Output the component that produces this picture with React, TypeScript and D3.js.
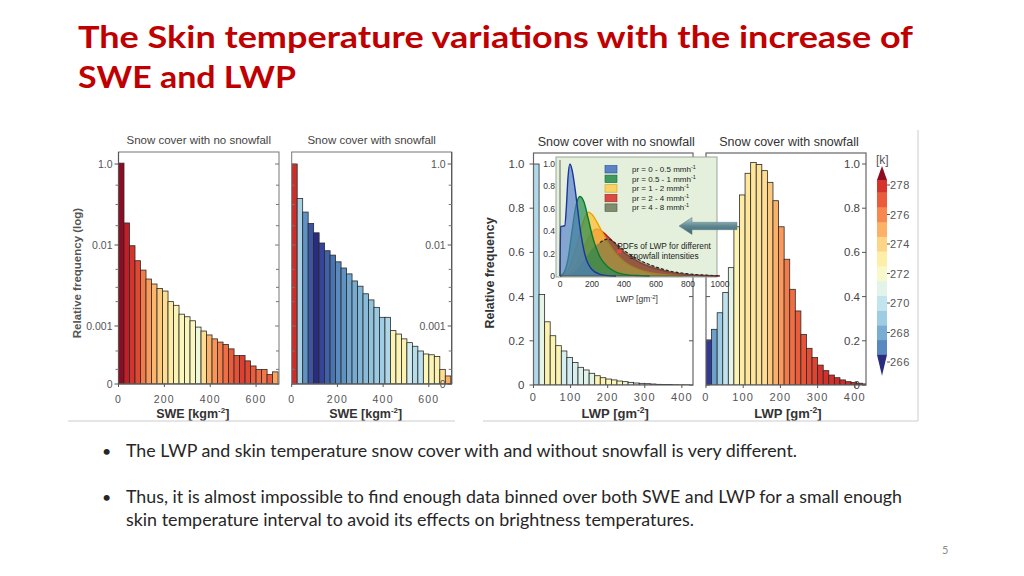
import React from "react";
import * as d3 from "d3";

// ---------- text ----------
const titleLine1 = "The Skin temperature variations with the increase of";
const titleLine2 = "SWE and LWP";
const bullet1 = "The LWP and skin temperature snow cover with and without snowfall is very different.";
const bullet2a = "Thus, it is almost impossible to find enough data binned over both SWE and LWP for a small enough";
const bullet2b = "skin temperature interval to avoid its effects on brightness temperatures.";
const pageNumber = "5";

const panelTitles = ["Snow cover with no snowfall", "Snow cover with snowfall", "Snow cover with no snowfall", "Snow cover with snowfall"];

// ---------- SWE histograms (log frequency) ----------
const sweBinWidth = 24;
const sweNoSnowfall = [1.05, 0.035, 0.0098, 0.0064, 0.0049, 0.0038, 0.0033, 0.0029, 0.0027, 0.002, 0.0018, 0.0014, 0.0013, 0.00116, 0.00097, 0.00087, 0.00078, 0.0007, 0.00064, 0.0006, 0.00053, 0.00044, 0.00044, 0.00038, 0.00033, 0.0003, 0.0003, 0.00026, 0.00028];
const sweNoSnowfallTemp = [280, 278.6, 278.0, 277.5, 276.3, 275.6, 274.9, 274.3, 273.7, 273.1, 272.7, 272.4, 272.4, 272.3, 271.5, 273.7, 275.0, 275.7, 276.2, 276.6, 277.0, 277.3, 277.7, 277.5, 277.0, 276.7, 276.4, 277.1, 275.3];
const sweSnowfall = [1.0, 0.14, 0.065, 0.034, 0.02, 0.0112, 0.0085, 0.0075, 0.0062, 0.0052, 0.0044, 0.0036, 0.0031, 0.0025, 0.0021, 0.0017, 0.00128, 0.00128, 0.00088, 0.0008, 0.0007, 0.00063, 0.00057, 0.0005, 0.00046, 0.00045, 0.00043, 0.0003, 0.00025];
const sweSnowfallTemp = [278.2, 269.2, 267.2, 265.7, 264.5, 265.3, 266.0, 266.45, 267.0, 267.2, 267.75, 267.9, 268.2, 268.4, 268.6, 268.9, 269.0, 269.4, 272.7, 272.6, 272.8, 270.5, 269.6, 269.8, 272.5, 272.6, 272.8, 273.7, 275.1];
const sweTicks = [0, 200, 400, 600];
const logTickValues = [0.0002, 0.001, 0.01, 1.0];
const logTickLabels = ["0", "0.001", "0.01", "1.0"];
const logMinorTicks = [0.3, 0.1, 0.03, 0.005, 0.003, 0.002, 0.0005, 0.0003];

// ---------- LWP histograms (linear frequency) ----------
const lwpBinWidth = 15;
const lwpNoSnowfall = [1.0, 0.41, 0.286, 0.223, 0.178, 0.154, 0.125, 0.102, 0.08, 0.068, 0.053, 0.042, 0.033, 0.027, 0.023, 0.018, 0.015, 0.012, 0.009, 0.0075, 0.006, 0.0045, 0.003, 0.0025, 0.002, 0.0015, 0.001, 0.001];
const lwpNoSnowfallTemp = [269.5, 271.1, 272.8, 272.7, 272.6, 270.6, 270.5, 270.7, 270.8, 270.9, 271.0, 272.6, 272.7, 272.5, 272.4, 272.3, 271.6, 271.0, 271.0, 271.0, 271.0, 271.0, 271.0, 271.0, 271.0, 271.0, 271.0, 271.0];
const lwpSnowfall = [0.204, 0.252, 0.327, 0.419, 0.531, 0.716, 0.86, 0.958, 1.007, 0.998, 0.97, 0.917, 0.834, 0.716, 0.569, 0.433, 0.335, 0.229, 0.166, 0.124, 0.09, 0.065, 0.045, 0.033, 0.023, 0.015, 0.011, 0.008, 0.005];
const lwpSnowfallTemp = [265.05, 267.6, 269.0, 269.9, 271.1, 272.7, 273.1, 273.3, 273.4, 273.5, 273.7, 274.3, 275.0, 275.6, 276.3, 276.6, 277.0, 277.2, 277.4, 277.6, 278.0, 278.1, 278.1, 278.2, 278.2, 278.2, 278.3, 278.3, 278.3];
const lwpTicks = [0, 100, 200, 300, 400];
const linTicks = [0, 0.2, 0.4, 0.6, 0.8, 1.0];
const linTickLabels = ["0", "0.2", "0.4", "0.6", "0.8", "1.0"];

// ---------- colorbar ----------
const colorbarTicks = [266, 268, 270, 272, 274, 276, 278];
const colorbarBandStarts = [266.5, 267.5, 268.5, 269.5, 270.5, 271.5, 272.5, 273.5, 274.5, 275.5, 276.5, 277.5];
const colorbarUnit = "[k]";

// ---------- inset PDFs ----------
const insetLabels = ["pr = 0 - 0.5 mmh", "pr = 0.5 - 1 mmh", "pr = 1 - 2  mmh", "pr = 2 - 4 mmh", "pr = 4 - 8 mmh"];
const pdfLow: [number, number][] = [[0, 0], [4, 0.44], [30, 0.45], [40, 0.62], [50, 0.88], [62, 1.0], [75, 0.95], [94, 0.78], [110, 0.6], [125, 0.43], [156, 0.19], [198, 0.06], [250, 0.015], [300, 0.003], [350, 0]];
const pdfMid: [number, number][] = [[0, 0], [25, 0.03], [50, 0.15], [75, 0.4], [100, 0.63], [125, 0.71], [150, 0.66], [175, 0.52], [200, 0.37], [250, 0.17], [300, 0.08], [350, 0.035], [400, 0.015], [500, 0.003], [560, 0]];
const pdfModerate: [number, number][] = [[0, 0], [50, 0.05], [100, 0.25], [150, 0.5], [175, 0.57], [200, 0.55], [250, 0.43], [300, 0.3], [350, 0.2], [400, 0.13], [500, 0.055], [600, 0.02], [700, 0.006], [760, 0]];
const pdfHeavy: [number, number][] = [[0, 0], [50, 0.02], [100, 0.1], [150, 0.26], [200, 0.39], [225, 0.42], [250, 0.41], [300, 0.35], [350, 0.28], [400, 0.21], [500, 0.12], [600, 0.065], [700, 0.03], [800, 0.012], [900, 0.004], [1000, 0]];
const pdfExtreme: [number, number][] = [[0, 0], [50, 0.01], [100, 0.05], [150, 0.14], [200, 0.24], [250, 0.3], [300, 0.33], [350, 0.29], [400, 0.23], [500, 0.14], [600, 0.08], [700, 0.04], [800, 0.02], [900, 0.008], [1000, 0.003]];
const insetXTicks = [0, 200, 400, 600, 800, 1000];
const insetYTicks = [0, 0.2, 0.4, 0.6, 0.8, 1.0];
const insetYLabels = ["0", "0.2", "0.4", "0.6", "0.8", "1.0"];

const FONT = "'Liberation Sans', Arial, sans-serif";
const SLIDE_FONT = "Lato, 'Open Sans', sans-serif";

const tempColor = (T: number) =>
  T >= 279.5 ? "#8e0c22" : T <= 265 ? "#2a2c80" : d3.interpolateRdYlBu(1 - (T - 265) / 14.5);

type Geo = { left: number; right: number; top: number; bottom: number };

function LogPanel({ g, data, temps, title, labelSide, id }: { g: Geo; data: number[]; temps: number[]; title: string; labelSide: "left" | "right"; id: string }) {
  const x = d3.scaleLinear().domain([0, 700]).range([g.left, g.right]);
  const y = d3.scaleLog().domain(logTickValues).range([384, 326, 245, 164]);
  const axisMajorX = labelSide === "left" ? g.left : g.right;
  const axisMinorX = labelSide === "left" ? g.right : g.left;
  const minorDir = labelSide === "left" ? -1 : 1;
  return (
    <g>
      <clipPath id={id}><rect x={g.left} y={g.top} width={g.right - g.left} height={g.bottom - g.top} /></clipPath>
      <g clipPath={`url(#${id})`}>
        {data.map((v, i) => (
          <rect key={i} x={x(i * sweBinWidth)} width={x((i + 1) * sweBinWidth) - x(i * sweBinWidth)} y={y(v)} height={g.bottom - y(v)} fill={tempColor(temps[i])} stroke="#2a2a2a" strokeWidth={0.8} />
        ))}
      </g>
      <rect x={g.left} y={g.top} width={g.right - g.left} height={g.bottom - g.top} fill="none" stroke="#777" strokeWidth={1} />
      <line x1={g.left} x2={g.right} y1={g.bottom} y2={g.bottom} stroke="#555" strokeWidth={1.2} />
      <line x1={axisMajorX} x2={axisMajorX} y1={g.top} y2={g.bottom} stroke="#555" strokeWidth={1.2} />
      {logTickValues.map((v, i) => (
        <g key={i}>
          <line x1={axisMajorX} x2={axisMajorX - 4} y1={y(v)} y2={y(v)} stroke="#555" />
          <line x1={axisMinorX} x2={axisMinorX + minorDir * 4} y1={y(v)} y2={y(v)} stroke="#777" />
          <text x={labelSide === "left" ? g.left - 6 : g.right - 6} y={y(v) + 4} textAnchor="end" fontSize={10.5} fill="#555" fontFamily={FONT}>{logTickLabels[i]}</text>
        </g>
      ))}
      {logMinorTicks.map((v, i) => (
        <g key={i}>
          <line x1={axisMinorX} x2={axisMinorX + minorDir * 3} y1={y(v)} y2={y(v)} stroke="#777" />
          <line x1={axisMajorX} x2={axisMajorX - 3} y1={y(v)} y2={y(v)} stroke="#777" />
        </g>
      ))}
      {sweTicks.map((t) => (
        <g key={t}>
          <line x1={x(t)} x2={x(t)} y1={g.bottom} y2={g.bottom + 3} stroke="#555" />
          <text x={x(t)} y={403} textAnchor="middle" fontSize={10.5} fill="#555" letterSpacing={1.2} fontFamily={FONT}>{t}</text>
        </g>
      ))}
      <text x={(g.left + g.right) / 2} y={143.5} textAnchor="middle" fontSize={11.5} fill="#444" fontFamily={FONT}>{title}</text>
      <text x={(g.left + g.right) / 2 - 6} y={418} textAnchor="middle" fontSize={12.5} fontWeight="bold" fill="#333" fontFamily={FONT}>
        SWE [kgm<tspan dy={-5} fontSize={8}>-2</tspan><tspan dy={5}>]</tspan>
      </text>
    </g>
  );
}

function LinPanel({ g, data, temps, title, labelSide, id }: { g: Geo; data: number[]; temps: number[]; title: string; labelSide: "left" | "right"; id: string }) {
  const x = d3.scaleLinear().domain([0, 430]).range([g.left, g.right]);
  const y = d3.scaleLinear().domain([0, 1]).range([g.bottom, 164]);
  return (
    <g>
      <clipPath id={id}><rect x={g.left} y={g.top} width={g.right - g.left} height={g.bottom - g.top} /></clipPath>
      <g clipPath={`url(#${id})`}>
        {data.map((v, i) => (
          <rect key={i} x={x(i * lwpBinWidth)} width={x((i + 1) * lwpBinWidth) - x(i * lwpBinWidth)} y={y(v)} height={g.bottom - y(v)} fill={tempColor(temps[i])} stroke="#2a2a2a" strokeWidth={0.8} />
        ))}
      </g>
      <rect x={g.left} y={g.top} width={g.right - g.left} height={g.bottom - g.top} fill="none" stroke="#666" strokeWidth={1.2} />
      {linTicks.map((v, i) => (
        <g key={i}>
          <line x1={g.left} x2={g.left + (labelSide === "left" ? -4 : 4)} y1={y(v)} y2={y(v)} stroke="#555" />
          <line x1={g.right} x2={g.right - 4} y1={y(v)} y2={y(v)} stroke="#555" />
          <text x={labelSide === "left" ? g.left - 9 : g.right - 6} y={y(v) + 4} textAnchor="end" fontSize={11.5} fill="#444" fontFamily={FONT}>{linTickLabels[i]}</text>
        </g>
      ))}
      {lwpTicks.map((t) => (
        <g key={t}>
          <line x1={x(t)} x2={x(t)} y1={g.bottom} y2={g.bottom + 3} stroke="#555" />
          <text x={x(t)} y={401} textAnchor="middle" fontSize={11} fill="#555" letterSpacing={1.2} fontFamily={FONT}>{t}</text>
        </g>
      ))}
      <text x={(g.left + g.right) / 2 + 3} y={146} textAnchor="middle" fontSize={12.5} fill="#333" fontFamily={FONT}>{title}</text>
      <text x={(g.left + g.right) / 2 + 2} y={418} textAnchor="middle" fontSize={13} fontWeight="bold" fill="#333" fontFamily={FONT}>
        LWP [gm<tspan dy={-5} fontSize={8.5}>-2</tspan><tspan dy={5}>]</tspan>
      </text>
    </g>
  );
}

function Inset() {
  const x = d3.scaleLinear().domain([0, 1000]).range([560, 720]);
  const y = d3.scaleLinear().domain([0, 1]).range([276, 164]);
  const area = d3.area<[number, number]>().x((d) => x(d[0])).y0(y(0)).y1((d) => y(d[1])).curve(d3.curveMonotoneX);
  const line = d3.line<[number, number]>().x((d) => x(d[0])).y((d) => y(d[1])).curve(d3.curveMonotoneX);
  const series = [
    { d: pdfHeavy, fill: "rgba(214,48,42,0.85)", stroke: "#b3201a" },
    { d: pdfModerate, fill: "rgba(250,196,60,0.78)", stroke: "#f0a000" },
    { d: pdfExtreme, fill: "rgba(80,100,70,0.5)", stroke: "none" },
    { d: pdfMid, fill: "rgba(40,140,80,0.7)", stroke: "#0b7a2e" },
    { d: pdfLow, fill: "rgba(80,125,200,0.65)", stroke: "#1a36a0" },
  ];
  const legend = [
    { fill: "#5b84c4", stroke: "#2a4a98" },
    { fill: "#3f9a5e", stroke: "#1a6a35" },
    { fill: "#f8d262", stroke: "#c8a030" },
    { fill: "#d94a43", stroke: "#9a2a25" },
    { fill: "#7f8c70", stroke: "#4a5540" },
  ];
  const tail = pdfExtreme.filter((p) => p[0] >= 250);
  return (
    <g>
      <rect x={556} y={157} width={161} height={120} fill="#e4f0dc" stroke="#9aa59a" strokeWidth={1} />
      {series.map((s, i) => (
        <g key={i}>
          <path d={area(s.d) || ""} fill={s.fill} />
          {s.stroke !== "none" && <path d={line(s.d) || ""} fill="none" stroke={s.stroke} strokeWidth={1.4} />}
        </g>
      ))}
      <path d={line(tail) || ""} fill="none" stroke="#222" strokeWidth={1.2} strokeDasharray="3,2" />
      <rect x={x(355)} y={y(0.235)} width={5} height={y(0.2) - y(0.235)} fill="#e04a40" />
      <line x1={560} x2={560} y1={160} y2={276} stroke="#444" strokeWidth={0.8} />
      <line x1={560} x2={717} y1={276} y2={276} stroke="#444" strokeWidth={0.8} />
      {insetYTicks.map((v, i) => (
        <text key={i} x={555} y={y(v) + 3} textAnchor="end" fontSize={8.5} fill="#333" fontFamily={FONT}>{insetYLabels[i]}</text>
      ))}
      {insetXTicks.map((t) => (
        <text key={t} x={x(t)} y={287} textAnchor="middle" fontSize={8.5} fill="#333" fontFamily={FONT}>{t}</text>
      ))}
      <text x={637} y={302} textAnchor="middle" fontSize={8.5} fill="#333" fontFamily={FONT}>
        LWP [gm<tspan dy={-3} fontSize={6}>-2</tspan><tspan dy={3}>]</tspan>
      </text>
      {insetLabels.map((lab, i) => (
        <g key={i}>
          <rect x={605} y={165.5 + i * 9.6} width={12} height={7.5} fill={legend[i].fill} stroke={legend[i].stroke} strokeWidth={0.6} />
          <text x={632} y={172 + i * 9.6} fontSize={8} fill="#222" fontFamily={FONT}>
            {lab}<tspan dy={-3} fontSize={5.5}>-1</tspan>
          </text>
        </g>
      ))}
      <text x={664} y={248.5} textAnchor="middle" fontSize={8.3} fill="#222" fontFamily={FONT}>PDFs of LWP for different</text>
      <text x={664} y={258.5} textAnchor="middle" fontSize={8.3} fill="#222" fontFamily={FONT}>snowfall intensities</text>
    </g>
  );
}

function Colorbar() {
  const y = d3.scaleLinear().domain([266, 278]).range([362, 185]);
  const x0 = 877, w = 10;
  const topVal = 278.34;
  const bottomVal = colorbarBandStarts[0];
  return (
    <g>
      {colorbarBandStarts.map((s) => {
        const e = Math.min(s + 1, topVal);
        return <rect key={s} x={x0} y={y(e)} width={w} height={y(s) - y(e) + 0.3} fill={tempColor(s + 0.5)} />;
      })}
      <path d={`M${x0},${y(topVal)} L${x0 + w / 2},${y(topVal) - 14} L${x0 + w},${y(topVal)} Z`} fill={tempColor(279.6)} />
      <path d={`M${x0},${y(bottomVal)} L${x0 + w / 2},${y(bottomVal) + 21} L${x0 + w},${y(bottomVal)} Z`} fill={tempColor(264.5)} />
      {colorbarTicks.map((t) => (
        <g key={t}>
          <line x1={x0 + w} x2={x0 + w + 3} y1={y(t)} y2={y(t)} stroke="#555" />
          <text x={x0 + w + 3} y={y(t) + 4} fontSize={11} fill="#555" letterSpacing={0.5} fontFamily={FONT}>{t}</text>
        </g>
      ))}
      <text x={876} y={164} fontSize={12} fill="#555" fontFamily={FONT}>{colorbarUnit}</text>
    </g>
  );
}

function Arrow() {
  return (
    <g>
      <defs>
        <linearGradient id="arrowGrad" x1="0" y1="0" x2="0" y2="1">
          <stop offset="0" stopColor="#b8ced2" />
          <stop offset="0.5" stopColor="#5f8790" />
          <stop offset="1" stopColor="#3e6470" />
        </linearGradient>
      </defs>
      <path d="M679,226 L692,217.5 L692,222.3 L737,222.3 L737,229.7 L692,229.7 L692,234.5 Z" fill="url(#arrowGrad)" stroke="#5a7f88" strokeWidth={0.5} />
    </g>
  );
}

export default function App() {
  const p1: Geo = { left: 118.5, right: 279, top: 152, bottom: 384 };
  const p2: Geo = { left: 291.7, right: 451.7, top: 152, bottom: 384 };
  const p3: Geo = { left: 533.5, right: 693, top: 153, bottom: 385 };
  const p4: Geo = { left: 706, right: 866, top: 153, bottom: 385 };
  return (
    <svg width={1024} height={576} viewBox="0 0 1024 576" style={{ position: "absolute", left: 0, top: 0, background: "#fff" }}>
      <rect x={0} y={0} width={1024} height={576} fill="#fff" />
      <text x={78} y={48} fontSize={31} fontWeight="bold" fill="#c00000" fontFamily={SLIDE_FONT} textLength={835} lengthAdjust="spacingAndGlyphs">{titleLine1}</text>
      <text x={78} y={88} fontSize={31} fontWeight="bold" fill="#c00000" fontFamily={SLIDE_FONT} textLength={218} lengthAdjust="spacingAndGlyphs">{titleLine2}</text>

      {/* left figure */}
      <LogPanel g={p1} data={sweNoSnowfall} temps={sweNoSnowfallTemp} title={panelTitles[0]} labelSide="left" id="c1" />
      <LogPanel g={p2} data={sweSnowfall} temps={sweSnowfallTemp} title={panelTitles[1]} labelSide="right" id="c2" />
      <text transform="translate(81,273) rotate(-90)" textAnchor="middle" fontSize={11.5} fontWeight="bold" fill="#555" fontFamily={FONT}>Relative frequency (log)</text>
      <line x1={68} x2={455} y1={421} y2={421} stroke="#ccc" strokeWidth={1} />

      {/* right figure */}
      <LinPanel g={p3} data={lwpNoSnowfall} temps={lwpNoSnowfallTemp} title={panelTitles[2]} labelSide="left" id="c3" />
      <LinPanel g={p4} data={lwpSnowfall} temps={lwpSnowfallTemp} title={panelTitles[3]} labelSide="right" id="c4" />
      <text transform="translate(494,273) rotate(-90)" textAnchor="middle" fontSize={12.5} fontWeight="bold" fill="#333" fontFamily={FONT}>Relative frequency</text>
      <Inset />
      <Arrow />
      <Colorbar />
      <line x1={483} x2={918} y1={421} y2={421} stroke="#ccc" strokeWidth={1} />
      <line x1={918} x2={918} y1={130} y2={421} stroke="#ccc" strokeWidth={1} />

      {/* bullets */}
      <text x={102} y={457} fontSize={16} fill="#262626" fontFamily={SLIDE_FONT}>•</text>
      <text x={126} y={457} fontSize={16.5} fill="#262626" fontFamily={SLIDE_FONT} textLength={671} lengthAdjust="spacingAndGlyphs">{bullet1}</text>
      <text x={102} y={503} fontSize={16} fill="#262626" fontFamily={SLIDE_FONT}>•</text>
      <text x={126} y={503} fontSize={16.5} fill="#262626" fontFamily={SLIDE_FONT} textLength={776} lengthAdjust="spacingAndGlyphs">{bullet2a}</text>
      <text x={126} y={526} fontSize={16.5} fill="#262626" fontFamily={SLIDE_FONT} textLength={568} lengthAdjust="spacingAndGlyphs">{bullet2b}</text>
      <text x={942} y={554} fontSize={11} fill="#8c8c8c" fontFamily={SLIDE_FONT}>{pageNumber}</text>
    </svg>
  );
}
